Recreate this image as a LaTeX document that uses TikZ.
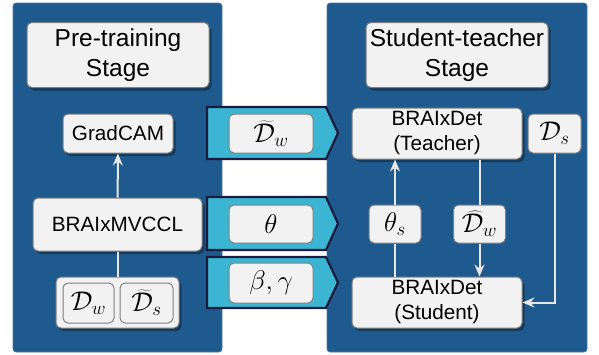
\RequirePackage{fix-cm}
\documentclass[tikz,border=0pt]{standalone}
\usepackage{fontspec}
\setmainfont{Liberation Sans}
\usetikzlibrary{arrows.meta, shadows}

\definecolor{panelblue}{HTML}{1F5A8E}
\definecolor{chevroncyan}{HTML}{3CB5D3}
\definecolor{chevronedge}{HTML}{1C1A3E}
\definecolor{boxfill}{HTML}{F2F2F2}
\definecolor{boxedge}{HTML}{808080}
\definecolor{linkgray}{HTML}{E8E8E8}

\begin{document}
\begin{tikzpicture}[%
        x = 1pt,
        y = -1pt,
        > = {Stealth[length = 12pt, width = 10pt, inset = 4pt]},
        panel/.style = {%
            fill = panelblue,
            draw = panelblue!80!white,
            line width = 0.6pt,
            rounded corners = 3pt
        },
        chevron/.style = {%
            fill = chevroncyan,
            draw = chevronedge,
            line width = 2.2pt,
            line join = miter
        },
        block/.style = {%
            draw = boxedge,
            fill = boxfill,
            line width = 1pt,
            rounded corners = 5pt,
            inner sep = 0pt,
            align = center,
            font = \fontsize{20.7}{25}\selectfont,
            drop shadow = {%
                shadow xshift = 2.5pt,
                shadow yshift = -3pt,
                fill = black,
                opacity = 0.35
            }
        },
        title/.style = {%
            block,
            minimum width = 182pt,
            minimum height = 65pt,
            font = \fontsize{24.5}{30}\selectfont
        },
        tag/.style = {%
            draw = boxedge,
            fill = boxfill,
            line width = 1pt,
            rounded corners = 5pt,
            inner sep = 0pt,
            font = \fontsize{27}{32}\selectfont
        },
        link/.style = {%
            draw = linkgray,
            line width = 2pt
        }
    ]

        \useasboundingbox (0, 0) rectangle (599, 354);

        % Panels:
        \draw[panel] (13, 3) rectangle (222, 352);
        \draw[panel] (327, 3) rectangle (587, 352);

        % Chevrons between the two stages.
        \draw[chevron] (207, 107) -- (326, 107) -- (338, 133)
            -- (326, 159) -- (207, 159) -- cycle;
        \draw[chevron] (207, 197) -- (326, 197) -- (338, 223.5)
            -- (326, 250) -- (207, 250) -- cycle;
        \draw[chevron] (207, 257) -- (326, 257) -- (338, 282.5)
            -- (326, 308) -- (207, 308) -- cycle;

        % Pre-training stage.
        \node[title] (pretitle) at (118, 55) {Pre-training\\Stage};
        \node[block, minimum width = 110pt, minimum height = 39pt]
            (gradcam) at (118, 133.5) {GradCAM};
        \node[block, minimum width = 169pt, minimum height = 53pt]
            (mvccl) at (117.5, 224.5) {BRAIxMVCCL};
        \node[block, minimum width = 123pt, minimum height = 51pt]
            (data) at (117.5, 302.5) {};
        \node[tag, minimum width = 51pt, minimum height = 40pt]
            (dw) at (88.5, 303) {$\mathcal{D}_w$};
        \node[tag, minimum width = 53pt, minimum height = 40pt]
            (dstilde) at (146.5, 303) {$\widetilde{\mathcal{D}}_s$};

        % Transferred quantities.
        \node[tag, minimum width = 84pt, minimum height = 39pt]
            (dwtilde) at (271, 133.5) {$\widetilde{\mathcal{D}}_w$};
        \node[tag, minimum width = 84pt, minimum height = 38pt]
            (theta) at (271, 224) {$\theta$};
        \node[tag, minimum width = 84pt, minimum height = 40pt]
            (betagamma) at (271, 283) {$\beta, \gamma$};

        % Student-teacher stage.
        \node[title] (sttitle) at (457, 55) {Student-teacher\\Stage};
        \node[block, minimum width = 170pt, minimum height = 51pt]
            (teacher) at (437, 133.5) {BRAIxDet\\(Teacher)};
        \node[tag, minimum width = 53pt, minimum height = 39pt]
            (ds) at (554.5, 133.5) {$\mathcal{D}_s$};
        \node[block, minimum width = 170pt, minimum height = 51pt]
            (student) at (437, 302.5) {BRAIxDet\\(Student)};
        \node[tag, minimum width = 52pt, minimum height = 38pt]
            (thetas) at (395, 224) {$\theta_s$};
        \node[tag, minimum width = 52pt, minimum height = 38pt]
            (dwhat) at (479.5, 224) {$\widehat{\mathcal{D}}_w$};

        % Connectors:
        \begin{scope}[link]
            \draw[->] (mvccl) to (gradcam);
            \draw (data) to (mvccl);
            \draw (student.north -| thetas.south) to (thetas.south);
            \draw[->] (thetas.north) to (thetas.north |- teacher.south);
            \draw (teacher.south -| dwhat.north) to (dwhat.north);
            \draw[->] (dwhat.south) to (dwhat.south |- student.north);
            \draw[->] (ds.south) |- (student.east);
        \end{scope}
    \end{tikzpicture}
\end{document}
